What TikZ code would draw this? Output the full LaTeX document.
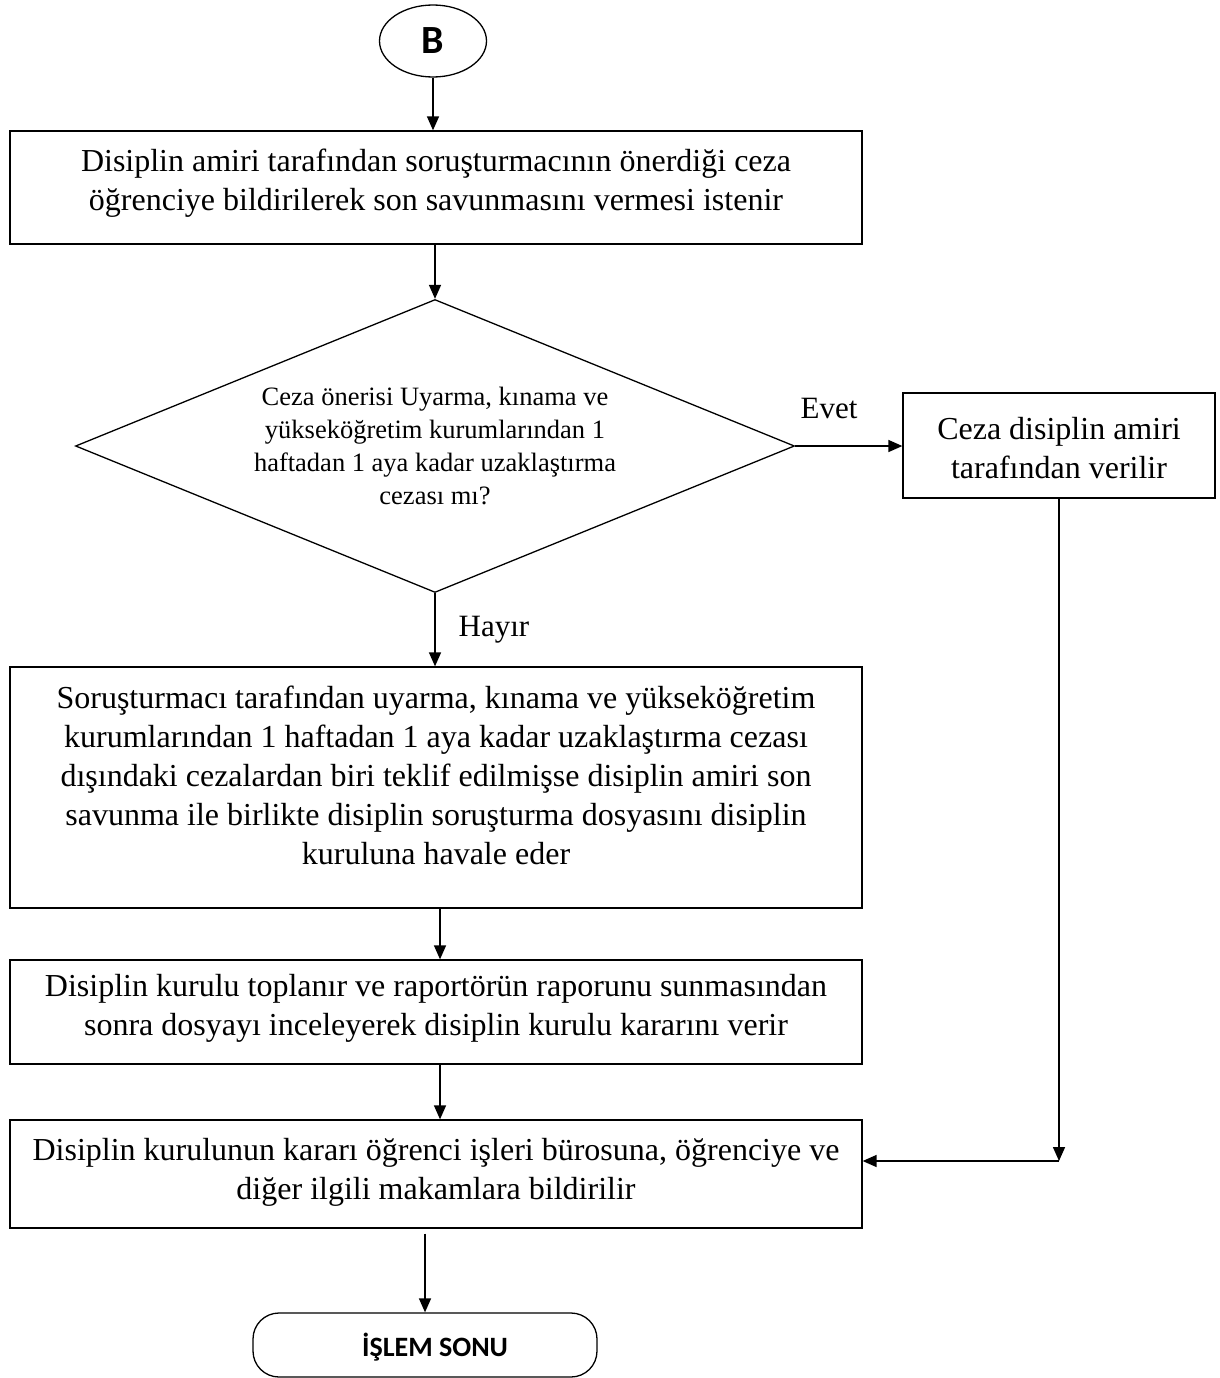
\documentclass[tikz,border=0pt]{standalone}
\usepackage{fontspec}
\setmainfont{Liberation Serif}
\newfontfamily\termfont{Carlito}
\usetikzlibrary{shapes.geometric,arrows.meta}
\begin{document}
\begin{tikzpicture}[x=1pt,y=-1pt,
  line width=1.5pt,
  flowbox/.style={draw, rectangle, line width=1.3pt, inner sep=0pt},
  boxtext/.style={align=center, inner sep=0pt, font=\fontsize{32}{39}\selectfont},
  decision/.style={draw, diamond, line width=1.3pt, align=center, inner sep=0pt,
    shape aspect=2.44, font=\fontsize{26.5}{33}\selectfont},
  terminal/.style={draw, rectangle, rounded corners=26pt, line width=1.3pt, inner sep=0pt},
  termtext/.style={inner sep=0pt, font=\termfont\bfseries\fontsize{28}{32}\selectfont},
  conn/.style={-{Triangle[length=14pt,width=12pt]}, line width=1.5pt},
  lbl/.style={font=\fontsize{31}{34}\selectfont, inner sep=0pt}
]
\useasboundingbox (0,0) rectangle (1220,1378);

% start marker
\node[draw, ellipse, line width=1.3pt, minimum width=107pt, minimum height=72pt,
  inner sep=0pt, font=\termfont\bfseries\fontsize{40}{44}\selectfont] (B) at (433,41) {B};

% process steps: frames and their texts
\node[flowbox, minimum width=852pt, minimum height=113pt] (s1) at (436,187.5) {};
\node[boxtext] (s1text) at (436,183.5)
  {Disiplin amiri tarafından soruşturmacının önerdiği ceza\\
   öğrenciye bildirilerek son savunmasını vermesi istenir};

\node[decision, minimum width=719pt, minimum height=293pt] (q) at (435,446)
  {Ceza önerisi Uyarma, kınama ve\\
   yükseköğretim kurumlarından 1\\
   haftadan 1 aya kadar uzaklaştırma\\
   cezası mı?};

\node[flowbox, minimum width=312pt, minimum height=105pt] (s2) at (1059,445.5) {};
\node[boxtext] (s2text) at (1059,448)
  {Ceza disiplin amiri\\ tarafından verilir};

\node[flowbox, minimum width=852pt, minimum height=241pt] (s3) at (436,787.5) {};
\node[boxtext] (s3text) at (436,775)
  {Soruşturmacı tarafından uyarma, kınama ve yükseköğretim\\
   kurumlarından 1 haftadan 1 aya kadar uzaklaştırma cezası\\
   dışındaki cezalardan biri teklif edilmişse disiplin amiri son\\
   savunma ile birlikte disiplin soruşturma dosyasını disiplin\\
   kuruluna havale eder};

\node[flowbox, minimum width=852pt, minimum height=104pt] (s4) at (436,1012) {};
\node[boxtext] (s4text) at (436,1008)
  {Disiplin kurulu toplanır ve raportörün raporunu sunmasından\\
   sonra dosyayı inceleyerek disiplin kurulu kararını verir};

\node[flowbox, minimum width=852pt, minimum height=108pt] (s5) at (436,1174) {};
\node[boxtext] (s5text) at (436,1172)
  {Disiplin kurulunun kararı öğrenci işleri bürosuna, öğrenciye ve\\
   diğer ilgili makamlara bildirilir};

% end marker
\node[terminal, minimum width=344pt, minimum height=64pt] (end) at (425,1345) {};
\node[termtext] (endtext) at (435,1347) {İŞLEM SONU};

% branch labels
\node[lbl] (yes) at (829,408) {Evet};
\node[lbl] (no) at (494,630) {Hayır};

\coordinate (corner) at (1059,1161);

% connectors
\draw[conn] (B.south) -- (B.south |- s1.north);
\draw[conn] (s1.south -| q.north) -- (q.north);
\draw[conn] (q.east) -- (q.east -| s2.west);
\draw[conn] (q.south) -- (q.south |- s3.north);
\draw[conn] ([xshift=4pt]s3.south) -- ([xshift=4pt]s4.north);
\draw[conn] ([xshift=4pt]s4.south) -- ([xshift=4pt]s5.north);
\draw[conn, shorten <=5pt] (end.north |- s5.south) -- (end.north);
\draw[conn] (s2.south -| corner) -- (corner);
\draw[conn] (corner) -- (corner -| s5.east);
\end{tikzpicture}
\end{document}
